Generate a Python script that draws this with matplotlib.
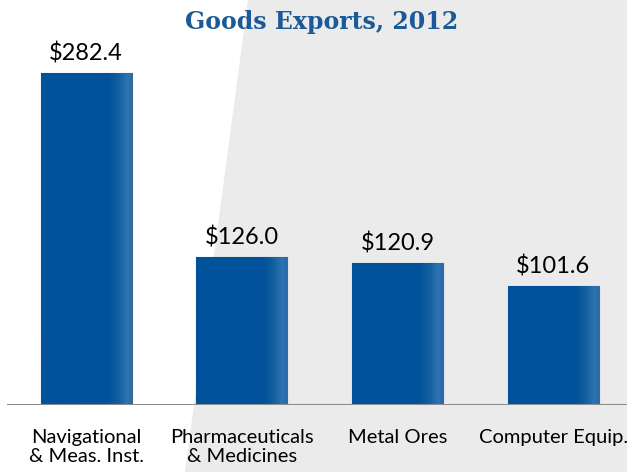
import numpy as np
import matplotlib
matplotlib.use("Agg")
import matplotlib.pyplot as plt
from matplotlib.patches import Polygon
from matplotlib.colors import LinearSegmentedColormap

# ------------------------------
# DATA
# ------------------------------
categories = ["Navigational\n& Meas. Inst.", "Pharmaceuticals\n& Medicines",
              "Metal Ores", "Computer Equip."]
values = [282.4, 126.0, 120.9, 101.6]
value_labels = ["$282.4", "$126.0", "$120.9", "$101.6"]
title = "Goods Exports, 2012"

W, H = 627, 472
fig = plt.figure(figsize=(W / 100, H / 100), dpi=100)
fig.patch.set_facecolor("white")

# background axes with the diagonal gray panel (pixel coords from top-left)
bg = fig.add_axes([0, 0, 1, 1], zorder=0)
bg.set_xlim(0, W)
bg.set_ylim(H, 0)
bg.axis("off")
px = [(248, 0), (W, 0), (W, H), (185, H)]
bg.add_patch(Polygon(px, closed=True, facecolor="#ebebeb", edgecolor="none"))

# main axes: baseline at y=405px, spacing ~155.8px between bar centers
ax = fig.add_axes([0, 67 / H, 1, 405 / H], zorder=1)
ax.set_facecolor("none")
x = np.arange(len(values))
ax.set_xlim(-0.552, 3.472)
ax.set_ylim(0, 344.4)
for s in ax.spines.values():
    s.set_visible(False)
ax.set_xticks([])
ax.set_yticks([])

bar_w = 0.584
bar_color = "#00529b"
grad = LinearSegmentedColormap.from_list(
    "g", [(0, bar_color), (0.74, bar_color), (0.86, "#14609f"), (0.95, "#2e74b3"), (1, "#2a6aab")])
gimg = np.linspace(0, 1, 200).reshape(1, -1)

bars = ax.bar(x, values, width=bar_w, color=bar_color, edgecolor="#4a6582",
              linewidth=0.8, zorder=2)
for b in bars:
    x0, w, h = b.get_x(), b.get_width(), b.get_height()
    im = ax.imshow(gimg, cmap=grad, aspect="auto", extent=(x0, x0 + w, 0, h), zorder=2.5)
    im.set_clip_path(b)

ax.axhline(0, xmin=8 / W, xmax=1, color="#8c8c8c", linewidth=2.2, zorder=3)

for xi, v, lab in zip(x, values, value_labels):
    ax.annotate(lab, (xi, v), xytext=(0, 6), textcoords="offset points",
                ha="center", va="bottom", fontsize=17, family="Lato", color="black")

for xi, cat in zip(x, categories):
    ax.annotate(cat, (xi, 0), xytext=(0, -17), textcoords="offset points",
                ha="center", va="top", fontsize=14.5, family="Lato", color="black",
                linespacing=1.2)

fig.text(322 / W, 1 - 22 / H, title, ha="center", va="center", fontsize=17,
         fontweight="bold", family="DejaVu Serif", color="#1b5a98")

fig.savefig("out.png", dpi=100)
